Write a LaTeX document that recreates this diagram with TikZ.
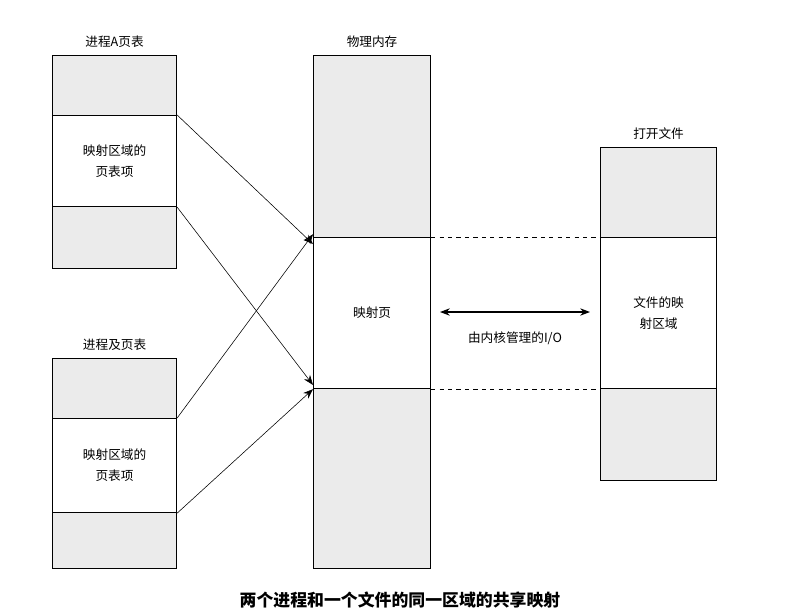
\documentclass[tikz,border=0pt]{standalone}
\usepackage{fontspec}
\setmainfont{Noto Sans CJK SC}
\usetikzlibrary{arrows.meta, positioning}

\begin{document}
\begin{tikzpicture}[x=0.025cm,y=-0.025cm,>={Stealth[length=7pt]},
        shade/.style={draw=black, thick, fill=black!8, anchor=north west, inner sep=0pt},
        blank/.style={draw=black, thick, fill=white, anchor=north west, inner sep=0pt, align=center, font=\small},
        title/.style={font=\small}]
    \useasboundingbox (0,0) rectangle (805,614);

    % process A page table
    \node[shade, minimum width=3.1cm, minimum height=1.5cm]   (a1) at (52,55)  {};
    \node[blank, minimum width=3.1cm, minimum height=2.275cm] (a2) at (52,115) {映射区域的\\[4pt]页表项};
    \node[shade, minimum width=3.1cm, minimum height=1.55cm]  (a3) at (52,206) {};
    \node[title, above=2pt of a1] {进程A页表};

    % process B page table
    \node[shade, minimum width=3.1cm, minimum height=1.5cm]   (b1) at (52,358) {};
    \node[blank, minimum width=3.1cm, minimum height=2.35cm]  (b2) at (52,418) {映射区域的\\[4pt]页表项};
    \node[shade, minimum width=3.1cm, minimum height=1.4cm]   (b3) at (52,512) {};
    \node[title, above=2pt of b1] {进程及页表};

    % physical memory
    \node[shade, minimum width=2.925cm, minimum height=4.55cm]  (m1) at (313,55)  {};
    \node[blank, minimum width=2.925cm, minimum height=3.775cm] (m2) at (313,237) {映射页};
    \node[shade, minimum width=2.925cm, minimum height=4.5cm]   (m3) at (313,388) {};
    \node[title, above=2pt of m1] {物理内存};

    % open file
    \node[shade, minimum width=2.9cm, minimum height=2.25cm]  (f1) at (600,147) {};
    \node[blank, minimum width=2.9cm, minimum height=3.775cm] (f2) at (600,237) {文件的映\\[4pt]射区域};
    \node[shade, minimum width=2.9cm, minimum height=2.3cm]   (f3) at (600,388) {};
    \node[title, above=2pt of f1] {打开文件};

    \draw[->] (a2.north east) -- ([yshift=-5pt]m2.north west);
    \draw[->] (a2.south east) -- ([yshift=3pt]m2.south west);
    \draw[->] (b2.north east) -- ([yshift=2pt]m2.north west);
    \draw[->] (b2.south east) -- (m2.south west);

    \draw[dashed] (m2.north east) -- (f2.north west);
    \draw[dashed] (m2.south east) -- (f2.south west);

    \coordinate (io1) at (440,312);
    \coordinate (io2) at (590,312);
    \draw[{Stealth[length=7pt]}-{Stealth[length=7pt]}, thick] (io1) -- node[below=10pt, font=\small] {由内核管理的I/O} (io2);

    \node[font=\large\bfseries] (cap) at (400,600) {两个进程和一个文件的同一区域的共享映射};
\end{tikzpicture}
\end{document}
